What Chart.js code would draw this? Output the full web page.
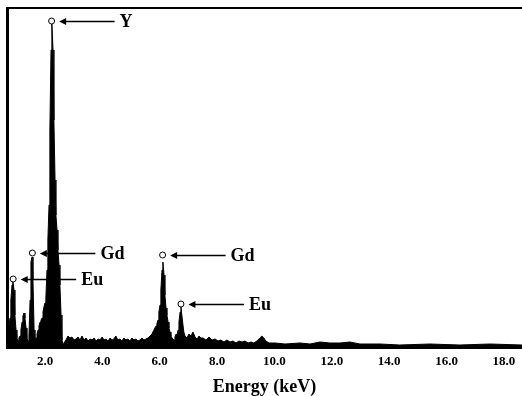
<!DOCTYPE html>
<html>
<head>
<meta charset="utf-8">
<script src="https://cdn.jsdelivr.net/npm/chart.js@4"></script>
<style>
  html, body { margin: 0; padding: 0; background: #fff; }
  canvas { display: block; }
</style>
</head>
<body>
<canvas id="c" width="522" height="396"></canvas>
<script>
// Energy (keV) of each spectrum sample
const energyKeV = [
  0.68,0.71,0.75,0.78,0.81,0.85,0.88,0.92,0.95,0.99,
  1.02,1.06,1.09,1.13,1.16,1.20,1.23,1.27,1.30,1.34,
  1.37,1.41,1.44,1.48,1.51,1.55,1.58,1.62,1.65,1.69,
  1.72,1.76,1.79,1.83,1.86,1.90,1.93,1.97,2.00,2.03,
  2.07,2.10,2.14,2.17,2.21,2.24,2.28,2.31,2.35,2.38,
  2.42,2.45,2.49,2.52,2.56,2.59,2.63,2.66,
  2.73,2.80,2.87,2.94,3.01,3.08,3.15,3.22,3.29,3.36,3.43,3.50,3.57,3.64,3.71,3.78,3.85,3.92,3.99,4.06,4.13,4.20,
  4.27,4.34,4.40,4.47,4.54,4.61,4.68,4.75,4.82,4.89,4.96,5.03,5.10,5.17,5.24,5.31,5.38,5.45,5.52,5.59,5.66,5.73,
  5.76,5.80,5.83,5.87,5.90,5.94,5.97,6.01,6.04,6.08,6.11,6.15,6.18,6.22,6.25,6.29,6.32,6.36,6.39,6.43,
  6.50,6.53,6.57,6.60,6.64,6.67,6.71,6.74,6.77,6.81,6.84,6.88,
  6.95,7.02,7.09,7.16,7.23,7.30,7.37,7.44,
  7.51,7.61,7.72,7.82,7.93,8.03,8.13,8.24,8.34,8.45,8.55,8.66,8.76,8.87,8.97,9.08,9.18,9.28,9.39,9.49,9.56,9.63,9.70,9.81,
  10.02,10.37,10.89,11.24,11.59,11.93,12.28,12.63,12.98,13.68,14.37,15.42,16.46,17.51,18.63
];
// Counts (arbitrary units) at each energy
const counts = [
  12,17,22,29,47,62,66,57,32,17,
  9,6,9,11,17,25,31,34,29,19,
  9,6,11,47,85,90,67,17,7,9,
  13,17,21,25,27,29,35,41,44,49,
  77,107,142,217,297,323,297,227,167,132,
  117,97,82,62,32,7,3,4,
  7,11,9,10,7,8,10,7,11,7,9,6,8,7,9,6,8,7,10,7,8,6,
  9,7,8,11,7,8,6,9,7,8,6,9,7,8,6,7,9,7,8,9,11,13,
  15,17,19,21,23,27,35,42,57,77,85,72,52,39,32,25,19,15,11,9,
  7,10,13,12,17,25,35,40,32,22,15,11,
  9,13,11,15,10,8,11,9,
  9,7,10,7,8,6,7,5,7,5,6,4,6,5,6,4,5,4,6,9,11,9,6,4,
  4,3,4,3,5,4,4,5,3,3,2,3,2,3,2
];
// Tick labels of the energy axis
const tickValues = [2, 4, 6, 8, 10, 12, 14, 16, 18];
// Labelled peaks
const peakLabels = ['Eu', 'Gd', 'Y', 'Gd', 'Eu'];
const peakEnergy = [0.89, 1.56, 2.23, 6.10, 6.74];
const peakMarkerCounts = [68, 94, 326, 92, 43];

const FONT = '"Liberation Serif", "Times New Roman", serif';

const annotPlugin = {
  id: 'annot',
  afterDatasetsDraw(chart) {
    const { ctx, chartArea, scales: { x, y } } = chart;
    ctx.save();
    ctx.strokeStyle = '#000';
    ctx.fillStyle = '#000';
    ctx.lineWidth = 2;
    ctx.beginPath();
    ctx.moveTo(chartArea.left - 1, chartArea.top);
    ctx.lineTo(chartArea.right, chartArea.top);
    ctx.stroke();
    ctx.font = 'bold 18px ' + FONT;
    ctx.textBaseline = 'middle';
    ctx.textAlign = 'left';
    peakLabels.forEach((lab, i) => {
      const cx = x.getPixelForValue(peakEnergy[i]);
      const cy = Math.round(y.getPixelForValue(peakMarkerCounts[i])) + 0.5;
      const tip = cx + 7.5;
      ctx.lineWidth = 1.3;
      ctx.beginPath();
      ctx.moveTo(tip + 5, cy);
      ctx.lineTo(cx + 63, cy);
      ctx.stroke();
      ctx.beginPath();
      ctx.moveTo(tip, cy);
      ctx.lineTo(tip + 7, cy - 3.5);
      ctx.lineTo(tip + 7, cy + 3.5);
      ctx.closePath();
      ctx.fill();
      ctx.fillText(lab, cx + 68, cy + 1);
    });
    ctx.restore();
  }
};

new Chart(document.getElementById('c'), {
  type: 'line',
  data: {
    datasets: [
      {
        type: 'scatter',
        order: 0,
        data: peakEnergy.map((e, i) => ({ x: e, y: peakMarkerCounts[i] })),
        pointRadius: 3,
        pointBackgroundColor: '#fff',
        pointBorderColor: '#000',
        pointBorderWidth: 1,
        showLine: false,
        clip: false
      },
      {
        order: 1,
        data: energyKeV.map((e, i) => ({ x: e, y: counts[i] })),
        fill: 'origin',
        backgroundColor: '#000',
        borderColor: '#000',
        borderWidth: 1,
        pointRadius: 0,
        tension: 0
      }
    ]
  },
  options: {
    responsive: false,
    animation: false,
    devicePixelRatio: 1,
    layout: { autoPadding: false, padding: { left: 0, top: 8, right: 0, bottom: 0 } },
    plugins: { legend: { display: false }, tooltip: { enabled: false } },
    scales: {
      x: {
        type: 'linear',
        min: 0.675,
        max: 18.63,
        afterBuildTicks: s => { s.ticks = tickValues.map(v => ({ value: v })); },
        afterFit: s => { s.height = 49; s.paddingRight = 0; s.paddingLeft = 0; },
        grid: { display: false, drawTicks: false },
        border: { display: true, color: '#000', width: 3 },
        ticks: {
          color: '#000',
          padding: 7,
          maxRotation: 0,
          autoSkip: false,
          font: { family: FONT, size: 13, weight: 'bold' },
          callback: v => Number(v).toFixed(1)
        },
        title: {
          display: true,
          text: 'Energy (keV)',
          color: '#000',
          padding: 0,
          font: { family: FONT, size: 18, weight: 'bold', lineHeight: 1 }
        }
      },
      y: {
        min: 0,
        max: 339,
        afterFit: s => { s.width = 7; },
        grid: { display: false, drawTicks: false },
        border: { display: true, color: '#000', width: 3 },
        ticks: { display: false }
      }
    }
  },
  plugins: [annotPlugin]
});
</script>
</body>
</html>
